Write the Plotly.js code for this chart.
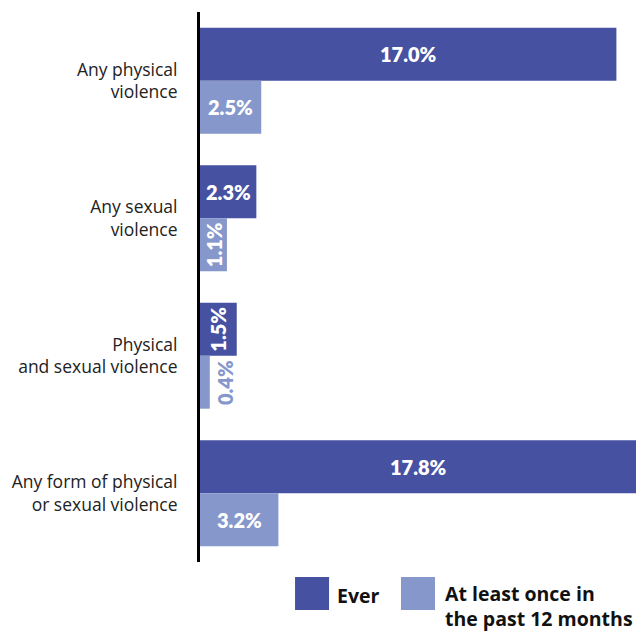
<!DOCTYPE html>
<html>
<head>
<meta charset="utf-8">
<script src="https://cdn.plot.ly/plotly-3.0.1.min.js"></script>
<style>
  html, body { margin: 0; padding: 0; background: #fff; }
  #chart { width: 643px; height: 632px; }
</style>
</head>
<body>
<div id="chart"></div>
<script>
// Prevalence of violence, in percent
const categories = [
  'Any physical<br>violence',
  'Any sexual<br>violence',
  'Physical<br>and sexual violence',
  'Any form of physical<br>or sexual violence'
];
const everValues = [17.0, 2.3, 1.5, 17.8];
const pastYearValues = [2.5, 1.1, 0.4, 3.2];
const seriesNames = ['Ever', 'At least once in<br>the past 12 months'];

const darkBlue = '#4651a2';
const lightBlue = '#8597cb';
const bargap = 0.23;

const traces = [
  { type: 'bar', orientation: 'h', name: seriesNames[0], y: categories, x: everValues,
    marker: { color: darkBlue }, hoverinfo: 'skip' },
  { type: 'bar', orientation: 'h', name: seriesNames[1], y: categories, x: pastYearValues,
    marker: { color: lightBlue }, hoverinfo: 'skip' }
];

// Value labels centred inside each bar; narrow bars get vertical text,
// and bars too thin to hold their label get it just past the bar end
const half = (1 - bargap) / 4;
const annotations = [];
[everValues, pastYearValues].forEach((vals, s) => {
  const colour = s === 0 ? darkBlue : lightBlue;
  vals.forEach((v, i) => {
    const tiny = v < 0.8;
    annotations.push({
      x: tiny ? v : v / 2, y: i + (s === 0 ? -half : half), xref: 'x', yref: 'y',
      xanchor: tiny ? 'left' : 'center', xshift: tiny ? 1 : 0,
      text: v.toFixed(1) + '%', showarrow: false,
      textangle: v < 2 ? -90 : 0,
      font: { family: 'Lato, sans-serif', size: 20, weight: 800,
              color: tiny ? colour : '#ffffff' }
    });
  });
});

// Legend drawn below the plot with large swatches
const legendFont = { family: '"Open Sans", sans-serif', size: 19.5, color: '#111111', weight: 'bold' };
const shapes = [
  { type: 'rect', xref: 'paper', yref: 'paper', x0: 0.218, x1: 0.296, y0: -0.0273, y1: -0.0873,
    fillcolor: darkBlue, line: { width: 0 } },
  { type: 'rect', xref: 'paper', yref: 'paper', x0: 0.461, x1: 0.539, y0: -0.0273, y1: -0.0873,
    fillcolor: lightBlue, line: { width: 0 } }
];
annotations.push(
  { xref: 'paper', yref: 'paper', x: 0.313, y: -0.06, xanchor: 'left', yanchor: 'middle',
    text: seriesNames[0], showarrow: false, font: legendFont, align: 'left', borderpad: 0 },
  { xref: 'paper', yref: 'paper', x: 0.559, y: -0.0318, xanchor: 'left', yanchor: 'top',
    text: seriesNames[1], showarrow: false, font: legendFont, align: 'left', borderpad: 0 }
);

const layout = {
  width: 643, height: 632,
  margin: { l: 200, r: 7, t: 12, b: 70 },
  paper_bgcolor: '#ffffff', plot_bgcolor: '#ffffff',
  barmode: 'group', bargap: bargap, bargroupgap: 0,
  showlegend: false,
  xaxis: { range: [0, 17.8], visible: false, fixedrange: true },
  yaxis: {
    autorange: 'reversed', showgrid: false, zeroline: false,
    showline: true, linecolor: '#000000', linewidth: 3,
    ticks: '', ticklabelstandoff: 16,
    tickfont: { family: '"Open Sans", sans-serif', size: 17.5, color: '#222222' }
  },
  annotations: annotations,
  shapes: shapes
};

Plotly.newPlot('chart', traces, layout, { displayModeBar: false, staticPlot: true });
</script>
</body>
</html>
